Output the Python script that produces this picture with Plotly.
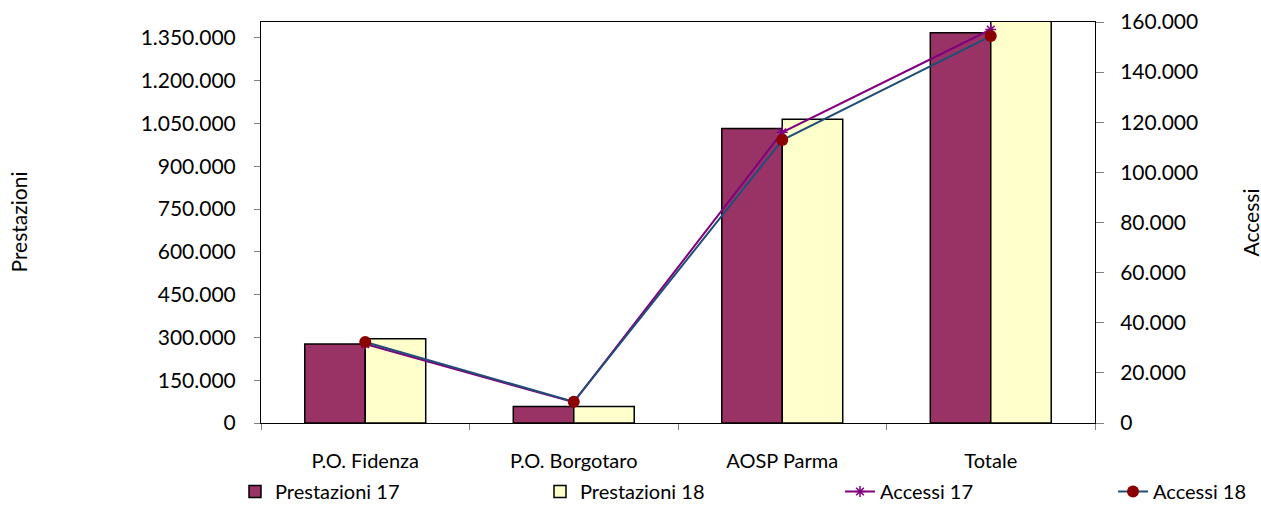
import plotly.graph_objects as go

categories = ["P.O. Fidenza", "P.O. Borgotaro", "AOSP Parma", "Totale"]
prestazioni_17 = [277000, 58000, 1033000, 1368000]
prestazioni_18 = [295000, 58000, 1065000, 1430000]
accessi_17 = [31500, 8300, 116000, 157000]
accessi_18 = [32300, 8500, 112900, 154400]

font_family = "Lato, Carlito, 'Open Sans', sans-serif"

fig = go.Figure()
fig.add_trace(go.Bar(name="Prestazioni 17", x=categories, y=prestazioni_17, legend="legend",
                     marker=dict(color="#993366", line=dict(color="black", width=1.5))))
fig.add_trace(go.Bar(name="Prestazioni 18", x=categories, y=prestazioni_18, legend="legend2",
                     marker=dict(color="#FFFFCC", line=dict(color="black", width=1.5))))
fig.add_trace(go.Scatter(name="Accessi 17", x=categories, y=accessi_17, yaxis="y2",
                         legend="legend3", mode="lines+markers",
                         line=dict(color="#800080", width=2),
                         marker=dict(symbol="asterisk-open", size=9,
                                     line=dict(color="#800080", width=1.5))))
fig.add_trace(go.Scatter(name="Accessi 18", x=categories, y=accessi_18, yaxis="y2",
                         legend="legend4", mode="lines+markers",
                         line=dict(color="#1F4E79", width=2),
                         marker=dict(symbol="circle", size=12, color="#8B0000")))

W, H = 1261, 507
L, R, T, B = 261, 1095, 22, 423
PW, PH = R - L, B - T

def leg(px):
    return dict(x=(px - L) / PW, xanchor="left", y=(B - 511) / PH, yanchor="bottom",
                bgcolor="rgba(0,0,0,0)", font=dict(size=20), orientation="h")

fig.update_layout(
    width=W, height=H,
    margin=dict(l=L, r=W - R, t=T, b=H - B, autoexpand=False),
    paper_bgcolor="white", plot_bgcolor="white",
    separators=",.",
    font=dict(family=font_family, size=21, color="black"),
    barmode="group", bargap=0.42, bargroupgap=0,
    showlegend=True,
    legend=leg(235), legend2=leg(540), legend3=leg(840), legend4=leg(1113),
    xaxis=dict(showline=True, linecolor="black", linewidth=1, mirror=True,
               ticks="outside", ticklen=6, tickson="boundaries", tickcolor="#808080",
               tickfont=dict(size=20), ticklabelstandoff=20, showgrid=False),
    yaxis=dict(range=[0, 1406000], dtick=150000, tickformat=",d",
               showline=True, linecolor="black", linewidth=1,
               ticks="outside", ticklen=6, tickcolor="#808080",
               ticklabelstandoff=14, showgrid=False, zeroline=False),
    yaxis2=dict(range=[0, 160000], dtick=20000, tickformat=",d", overlaying="y", side="right",
                showline=True, linecolor="black", linewidth=1,
                ticks="outside", ticklen=8, tickcolor="#808080",
                ticklabelstandoff=12, showgrid=False, zeroline=False),
    annotations=[
        dict(text="Prestazioni", xref="paper", yref="paper", x=0, y=0.5, xshift=-243,
             xanchor="center", yanchor="middle",
             textangle=-90, showarrow=False, font=dict(size=21)),
        dict(text="Accessi", xref="paper", yref="paper", x=1, y=0.5, xshift=155,
             xanchor="center", yanchor="middle",
             textangle=-90, showarrow=False, font=dict(size=21)),
    ],
)

fig.write_html("out.html", config={"displayModeBar": False},
               post_script="document.body.style.margin='0';document.body.style.overflow='hidden';")
